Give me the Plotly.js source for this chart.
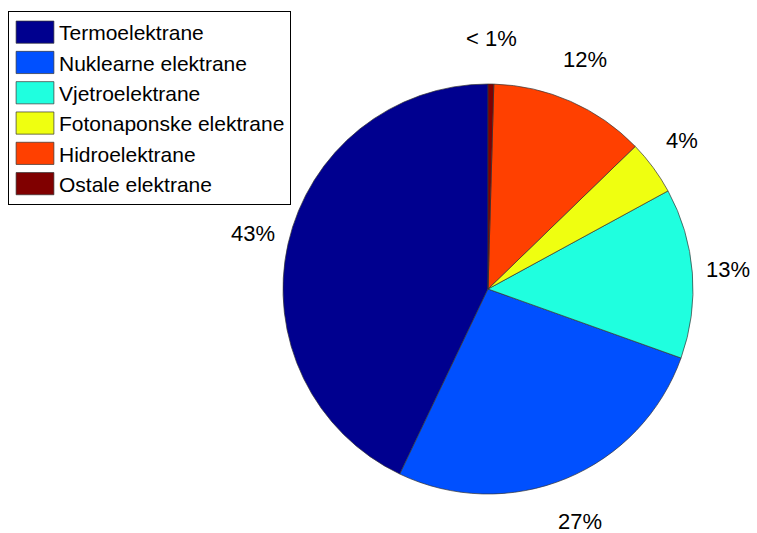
<!DOCTYPE html>
<html>
<head>
<meta charset="utf-8">
<script src="https://cdn.plot.ly/plotly-3.0.1.min.js"></script>
<style>
  html, body { margin: 0; padding: 0; background: #fff; }
  #chart { width: 757px; height: 533px; }
  .legend .legendpoints path { transform: translate(26px, 0px) scale(3.15, 1.85); vector-effect: non-scaling-stroke; }
</style>
</head>
<body>
<div id="chart"></div>
<script>
// Data (percent shares)
const categories = ["Termoelektrane", "Nuklearne elektrane", "Vjetroelektrane",
                    "Fotonaponske elektrane", "Hidroelektrane", "Ostale elektrane"];
const shares = [42.9, 26.6, 13.4, 4.3, 12.3, 0.45];
const colors = ["#00008F", "#0050FF", "#1FFFDF", "#EFFF10", "#FF4000", "#800000"];

const W = 757, H = 533;
const CX = 488, CY = 289, R = 205;       // pie centre / radius in px
const LRX = 241, LRY = 251;              // label distance (px)

function labelText(v) { return v < 1 ? "< 1%" : Math.round(v) + "%"; }

const total = shares.reduce((a, b) => a + b, 0);
// Plotly's counterclockwise pies end the first slice at the rotation angle;
// shift so the first slice starts at 12 o'clock going counterclockwise.
const firstAngle = shares[0] / total * 360;

// label annotations placed at the mid-angle of each slice (computed from data)
const annotations = [];
let cum = 0;
shares.forEach((v) => {
  const mid = (cum + v / 2) / total * 2 * Math.PI;   // CCW from 12 o'clock
  cum += v;
  const px = CX - Math.sin(mid) * LRX;
  const py = CY - Math.cos(mid) * LRY;
  annotations.push({
    x: px / W, y: 1 - py / H, xref: "paper", yref: "paper",
    text: labelText(v), showarrow: false, xanchor: "center", yanchor: "middle",
    font: { family: "Liberation Sans, Arial, sans-serif", size: 22, color: "#000" }
  });
});

const trace = {
  type: "pie",
  labels: categories,
  values: shares,
  sort: false,
  direction: "counterclockwise",
  rotation: -firstAngle,
  textinfo: "none",
  hoverinfo: "label+percent",
  marker: { colors: colors, line: { color: "#333", width: 0.7 } },
  domain: { x: [(CX - R) / W, (CX + R) / W], y: [(H - CY - R) / H, (H - CY + R) / H] }
};

const layout = {
  width: W, height: H,
  margin: { l: 0, r: 0, t: 0, b: 0 },
  paper_bgcolor: "#fff",
  showlegend: true,
  legend: {
    x: 8 / W, y: 1 - 11 / H, xanchor: "left", yanchor: "top",
    bordercolor: "#000", borderwidth: 1, bgcolor: "#fff",
    itemwidth: 40,
    font: { family: "Liberation Sans, Arial, sans-serif", size: 21, color: "#000" },
    traceorder: "normal"
  },
  annotations: annotations,
  font: { family: "Liberation Sans, Arial, sans-serif" }
};

Plotly.newPlot("chart", [trace], layout, { displayModeBar: false, staticPlot: true });
</script>
</body>
</html>
